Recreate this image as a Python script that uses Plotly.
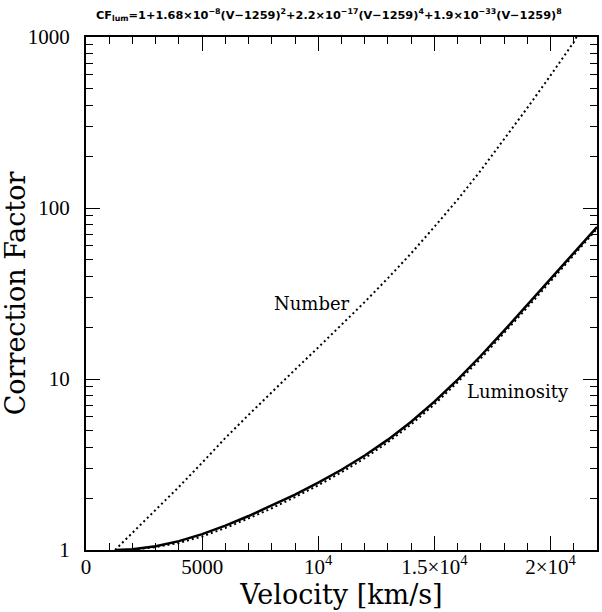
import plotly.graph_objects as go

# ---- data ----
lum_v = [1259, 2000, 3000, 4000, 5000, 6000, 7000, 8000, 9000, 10000, 11000,
         12000, 13000, 14000, 15000, 16000, 17000, 18000, 19000, 20000, 21000, 22000]
lum_cf = [1.0, 1.009, 1.051, 1.127, 1.239, 1.389, 1.580, 1.817, 2.110, 2.477, 2.946,
          3.568, 4.420, 5.626, 7.371, 9.926, 13.675, 19.158, 27.113, 38.527, 54.712, 77.37]

lumdot_v = [1800, 2000, 3000, 4000, 5000, 6000, 7000, 8000, 9000, 10000, 11000,
            12000, 13000, 14000, 15000, 16000, 17000, 18000, 19000, 20000, 21000, 22000]
lumdot_cf = [1.0, 1.004, 1.04, 1.10, 1.20, 1.345, 1.53, 1.755, 2.04, 2.39, 2.845,
             3.445, 4.27, 5.43, 7.11, 9.58, 13.2, 18.5, 26.2, 37.3, 53.2, 75.5]

num_v = [1250, 2000, 3000, 4000, 5000, 6000, 7000, 8000, 9000, 10000, 11000,
         12000, 13000, 14000, 15000, 16000, 17000, 18000, 19000, 20000, 21000, 21500]
num_cf = [1.0, 1.26, 1.72, 2.34, 3.24, 4.52, 6.17, 8.41, 11.35, 15.3, 20.7,
          28.2, 38.9, 54.3, 77.6, 112, 166, 251, 385, 596, 933, 1250]

x_range = [0, 22000]
x_tickvals = [0, 5000, 10000, 15000, 20000]
x_ticktext = ["0", "5000", "10<sup>4</sup>", "1.5×10<sup>4</sup>", "2×10<sup>4</sup>"]
y_tickvals = [1, 10, 100, 1000]
y_ticktext = ["1", "10", "100", "1000"]
y_minor = [m * 10 ** e for e in range(0, 3) for m in range(2, 10)]

title_text = ("<b>CF<sub>lum</sub>=1+1.68×10<sup>−8</sup>(V−1259)<sup>2</sup>+2.2×10<sup>−17</sup>"
              "(V−1259)<sup>4</sup>+1.9×10<sup>−33</sup>(V−1259)<sup>8</sup></b>")

fig = go.Figure()
fig.add_trace(go.Scatter(x=num_v, y=num_cf, mode="lines",
                         line=dict(color="black", width=2, dash="2px,3px"),
                         showlegend=False))
fig.add_trace(go.Scatter(x=lumdot_v, y=lumdot_cf, mode="lines",
                         line=dict(color="black", width=2, dash="2px,3px"),
                         showlegend=False))
fig.add_trace(go.Scatter(x=lum_v, y=lum_cf, mode="lines",
                         line=dict(color="black", width=2.5),
                         showlegend=False))
# empty trace to materialise the mirrored (top/right) tick axes
fig.add_trace(go.Scatter(x=[None], y=[None], xaxis="x2", yaxis="y2",
                         mode="lines", showlegend=False, hoverinfo="skip"))

fig.add_annotation(x=9735, y=1.44, text="Number", showarrow=False,
                   font=dict(family="DejaVu Serif", size=18, color="black"))
fig.add_annotation(x=18600, y=0.926, text="Luminosity", showarrow=False,
                   font=dict(family="DejaVu Serif", size=18, color="black"))
fig.add_annotation(x=0.476, y=1.0, xref="paper", yref="paper", yshift=22, text=title_text,
                   showarrow=False, xanchor="center", yanchor="middle",
                   font=dict(family="DejaVu Sans", size=11.3, color="black"))

common = dict(ticks="inside", ticklen=14, tickwidth=1.3, tickcolor="black",
              showgrid=False, zeroline=False)
minor_common = dict(ticks="inside", ticklen=7, tickwidth=1.1, tickcolor="black",
                    showgrid=False)

fig.update_layout(
    width=602, height=612,
    margin=dict(l=86, r=3, t=37, b=62),
    paper_bgcolor="white", plot_bgcolor="white",
    font=dict(family="Liberation Serif", color="black"),
    xaxis=dict(range=x_range, tickmode="array", tickvals=x_tickvals, ticktext=x_ticktext,
               ticklabelstandoff=-3,
               showline=True, linewidth=2, linecolor="black", mirror=True,
               tickfont=dict(family="Liberation Serif", size=21),
               minor=dict(dtick=1000, **minor_common),
               title=dict(text="Velocity [km/s]", standoff=4,
                          font=dict(family="DejaVu Serif", size=27)),
               **common),
    yaxis=dict(type="log", range=[0, 3], tickmode="array", tickvals=y_tickvals,
               ticktext=y_ticktext, ticklabelstandoff=10,
               showline=True, linewidth=2, linecolor="black", mirror=True,
               tickfont=dict(family="Liberation Serif", size=21),
               minor=dict(tickmode="array", tickvals=y_minor, **minor_common),
               title=dict(text="Correction Factor", standoff=4,
                          font=dict(family="DejaVu Serif", size=27)),
               **common),
    xaxis2=dict(overlaying="x", side="top", anchor="y2", range=x_range,
                tickmode="array", tickvals=x_tickvals, showticklabels=False,
                minor=dict(dtick=1000, **minor_common), **common),
    yaxis2=dict(overlaying="y", side="right", anchor="x2", type="log", range=[0, 3],
                tickmode="array", tickvals=y_tickvals, showticklabels=False,
                minor=dict(tickmode="array", tickvals=y_minor, **minor_common), **common),
)

fig.write_html("out.html")
